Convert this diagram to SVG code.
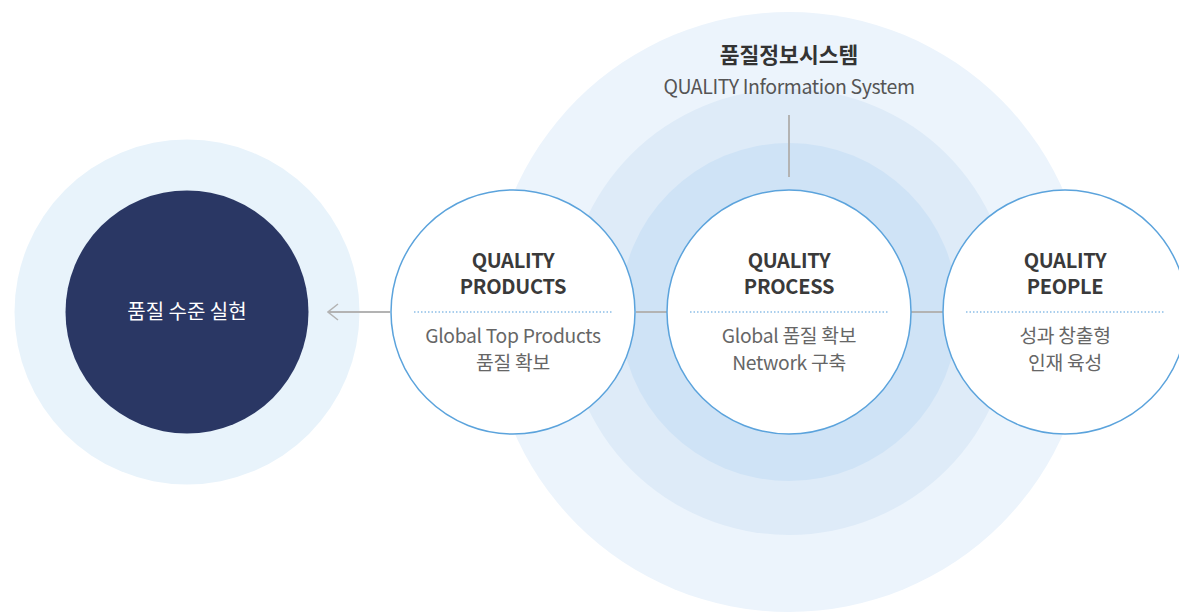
<svg xmlns="http://www.w3.org/2000/svg" width="1179" height="616" viewBox="0 0 1179 616">
<style>
.t{font-family:"Noto Sans CJK KR","Noto Sans",sans-serif;text-anchor:middle}
.hd{font-size:20px;font-weight:700;fill:#3a3a3a;letter-spacing:-0.3px}
.sb{font-size:19.3px;fill:#666;letter-spacing:-0.3px}
.node{fill:#fff;stroke:#5ba3dc;stroke-width:1.5}
.dot{stroke:#8dbfe8;stroke-width:1.5;stroke-dasharray:1.5 2}
.conn{stroke:#b3b3b3;stroke-width:2;fill:none}
</style>
<defs>
<marker id="arr" viewBox="0 0 12 18" refX="11" refY="9" markerWidth="12" markerHeight="18" markerUnits="userSpaceOnUse" orient="auto">
<path d="M1,1 L11,9 L1,17" fill="none" stroke="#b3b3b3" stroke-width="1.5"/>
</marker>
</defs>
<rect width="1179" height="616" fill="#fff"/>
<g id="system">
<circle cx="789" cy="312" r="300" fill="#ecf4fc"/>
<circle cx="789" cy="312" r="223" fill="#deebf8"/>
<circle cx="789" cy="312" r="169" fill="#cfe3f6"/>
<text class="t" x="789" y="63" style="font-size:21.5px;font-weight:700;fill:#333">품질정보시스템</text>
<text class="t" x="789" y="94" style="font-size:19.5px;fill:#555;letter-spacing:-0.4px">QUALITY Information System</text>
</g>
<g id="goal">
<circle cx="187" cy="312" r="172.5" fill="#e8f3fb"/>
<circle cx="187" cy="312" r="121.5" fill="#2a3764"/>
<text class="t" x="187" y="319" style="font-size:20px;fill:#fff">품질 수준 실현</text>
</g>
<g id="connectors">
<line class="conn" x1="390" y1="312" x2="328" y2="312" stroke-width="1.5" marker-end="url(#arr)"/>
<line class="conn" x1="636" y1="312" x2="667" y2="312"/>
<line class="conn" x1="911" y1="312" x2="944" y2="312"/>
<line class="conn" x1="789" y1="115" x2="789" y2="177"/>
</g>
<g id="products">
<circle class="node" cx="513" cy="312" r="122"/>
<text class="t hd" x="513" y="268">QUALITY</text>
<text class="t hd" x="513" y="294">PRODUCTS</text>
<line class="dot" x1="414" y1="312" x2="612" y2="312"/>
<text class="t sb" x="513" y="343">Global Top Products</text>
<text class="t sb" x="513" y="370">품질 확보</text>
</g>
<g id="process">
<circle class="node" cx="789" cy="312" r="122"/>
<text class="t hd" x="789" y="268">QUALITY</text>
<text class="t hd" x="789" y="294">PROCESS</text>
<line class="dot" x1="690" y1="312" x2="888" y2="312"/>
<text class="t sb" x="789" y="343">Global 품질 확보</text>
<text class="t sb" x="789" y="370">Network 구축</text>
</g>
<g id="people">
<circle class="node" cx="1065" cy="312" r="122"/>
<text class="t hd" x="1065" y="268">QUALITY</text>
<text class="t hd" x="1065" y="294">PEOPLE</text>
<line class="dot" x1="966" y1="312" x2="1164" y2="312"/>
<text class="t sb" x="1065" y="343">성과 창출형</text>
<text class="t sb" x="1065" y="370">인재 육성</text>
</g>
</svg>
